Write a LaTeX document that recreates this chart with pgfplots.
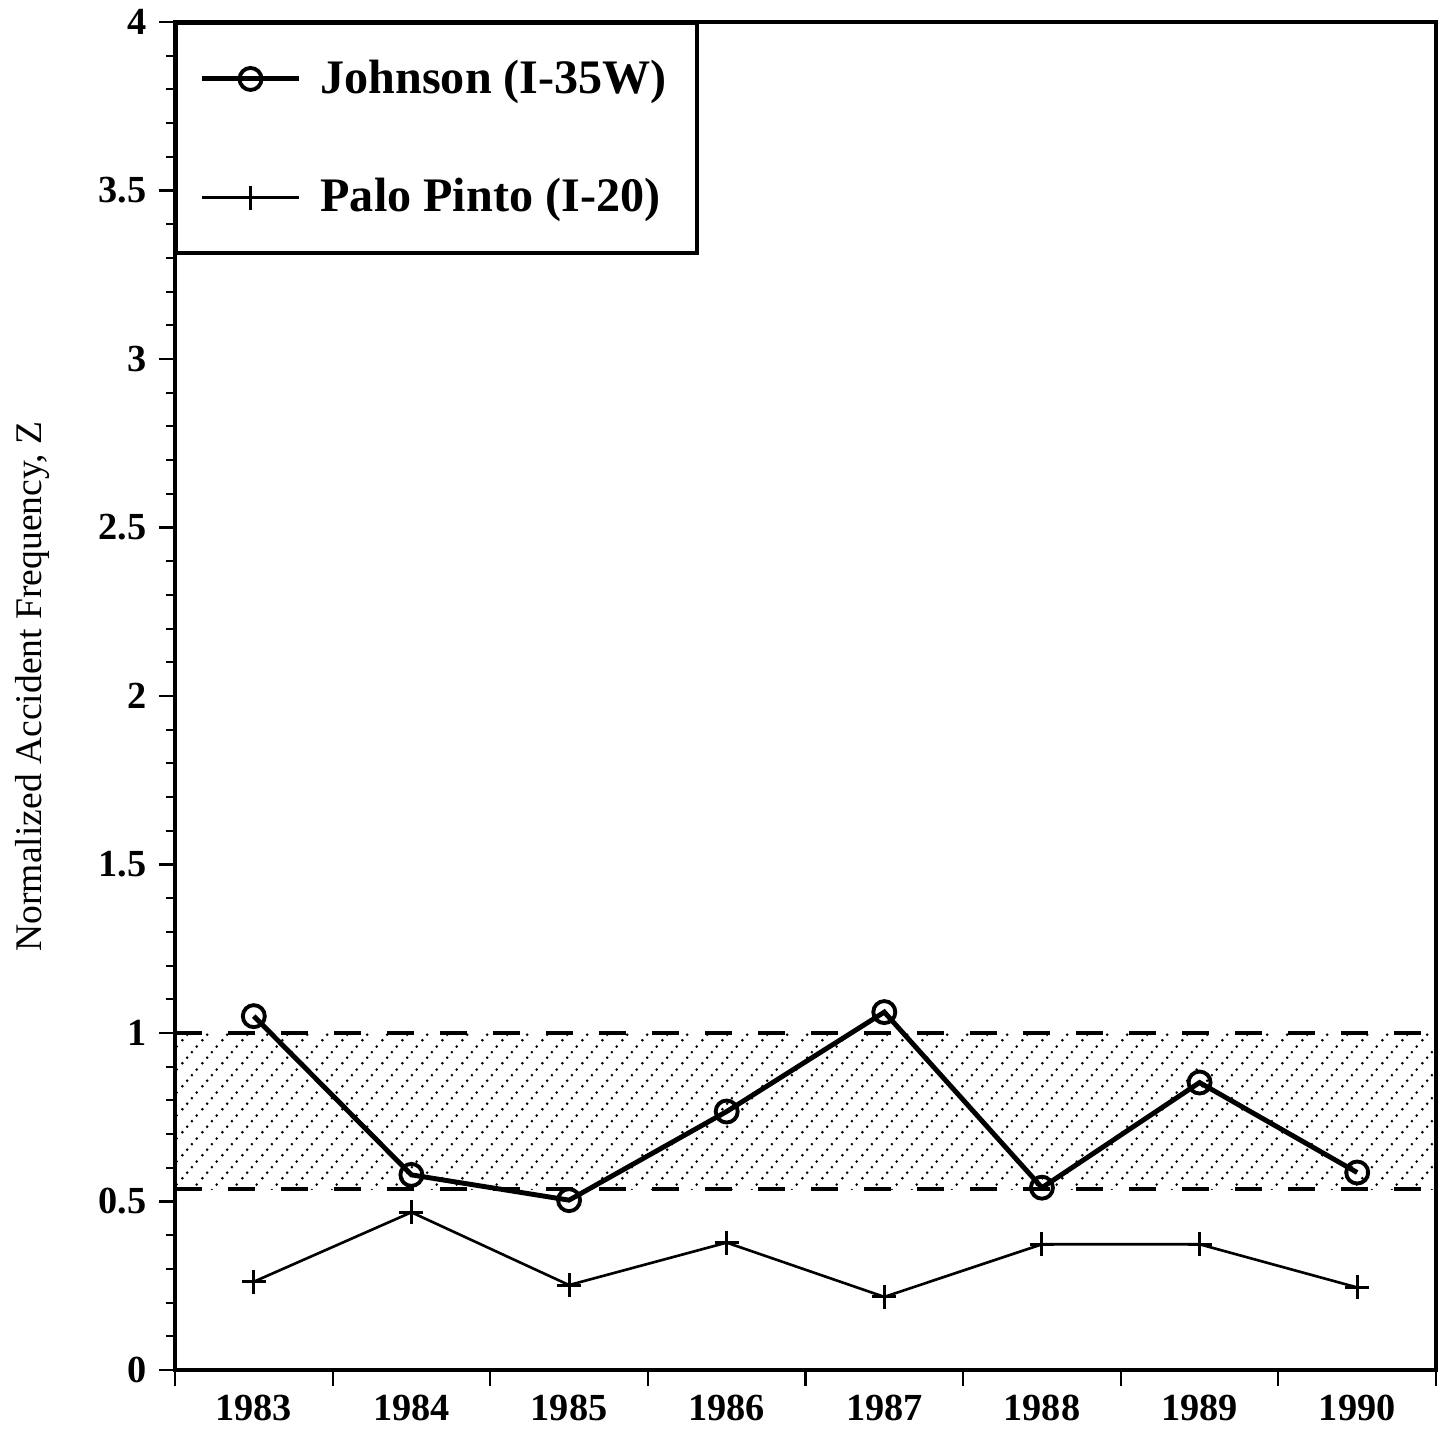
\documentclass[border=0pt]{standalone}
\usepackage{fontspec}
\setmainfont{Liberation Serif}
\usepackage{pgfplots}
\usepackage{pgfplotstable}
\pgfplotsset{compat=1.18}
\usetikzlibrary{patterns}

% dotted diagonal hatching for the band
\pgfdeclarepatternformonly{diagdots}{\pgfpointorigin}{\pgfpoint{2.0mm}{2.26mm}}{\pgfpoint{2.0mm}{2.26mm}}{
  \pgfpathcircle{\pgfpoint{0.25mm}{0.28mm}}{0.15mm}
  \pgfpathcircle{\pgfpoint{0.75mm}{0.845mm}}{0.15mm}
  \pgfpathcircle{\pgfpoint{1.25mm}{1.41mm}}{0.15mm}
  \pgfpathcircle{\pgfpoint{1.75mm}{1.975mm}}{0.15mm}
  \pgfusepath{fill}
}

\pgfplotstableread{
x y
1 1.050
2 0.579
3 0.504
4 0.767
5 1.062
6 0.541
7 0.853
8 0.586
}\johnson

\pgfplotstableread{
x y
1 0.262
2 0.468
3 0.252
4 0.378
5 0.217
6 0.373
7 0.373
8 0.245
}\palopinto

\begin{document}
\begin{tikzpicture}
\begin{axis}[
  scale only axis,
  width=126.1mm, height=134.8mm,
  xmin=0.5, xmax=8.5, ymin=0, ymax=4,
  xtick={0.5,1.5,...,8.5},
  x tick label as interval,
  xticklabels={1983,1984,1985,1986,1987,1988,1989,1990},
  xticklabel style={yshift=0.3mm},
  ytick={0,0.5,...,4},
  minor y tick num=4,
  tick pos=left,
  tick align=outside,
  major tick length=1.6mm,
  minor tick length=0.9mm,
  every tick/.style={black, line width=0.6pt},
  axis line style={line width=0.9pt},
  /pgf/number format/assume math mode=true,
  tick label style={font=\fontsize{10.9}{12}\selectfont\bfseries},
  ylabel={Normalized Accident Frequency, Z},
  ylabel style={font=\fontsize{10.7}{12}\selectfont, at={(axis description cs:-0.113,0.507)}, anchor=center},
  legend cell align=left,
  legend style={at={(0,1)}, anchor=north west, draw=black, line width=0.9pt,
    font=\fontsize{13.7}{16}\selectfont\bfseries,
    inner xsep=2.3mm, inner ysep=2.9mm, row sep=6.6mm,
    /tikz/every odd column/.append style={column sep=1.2mm}},
  legend image code/.code={\draw[mark repeat=2,mark phase=2,#1] plot coordinates {(0mm,0mm)(4.85mm,0mm)(9.7mm,0mm)};},
]
\addplot[draw=none, pattern=diagdots, forget plot] coordinates {(0.5,0.537) (8.5,0.537) (8.5,1) (0.5,1)} -- cycle;
\addplot[line width=1.1pt, dash pattern=on 2.7mm off 2.6mm, forget plot] coordinates {(0.5,1) (8.5,1)};
\addplot[line width=1.1pt, dash pattern=on 2.7mm off 2.6mm, forget plot] coordinates {(0.5,0.537) (8.5,0.537)};

\addplot[black, line width=1.4pt, mark=o, mark size=1.1mm, mark options={line width=1.1pt}] table[x=x, y=y] {\johnson};
\addlegendentry{Johnson (I-35W)}
\addplot[black, line width=0.75pt, mark=+, mark size=1.2mm, mark options={line width=0.85pt}] table[x=x, y=y] {\palopinto};
\addlegendentry{Palo Pinto (I-20)}
\end{axis}
\pgfresetboundingbox
\path[use as bounding box] ([xshift=-17.5mm, yshift=-5.9mm]current axis.south west) rectangle ([xshift=0.5mm, yshift=2.2mm]current axis.north east);
\end{tikzpicture}
\end{document}
